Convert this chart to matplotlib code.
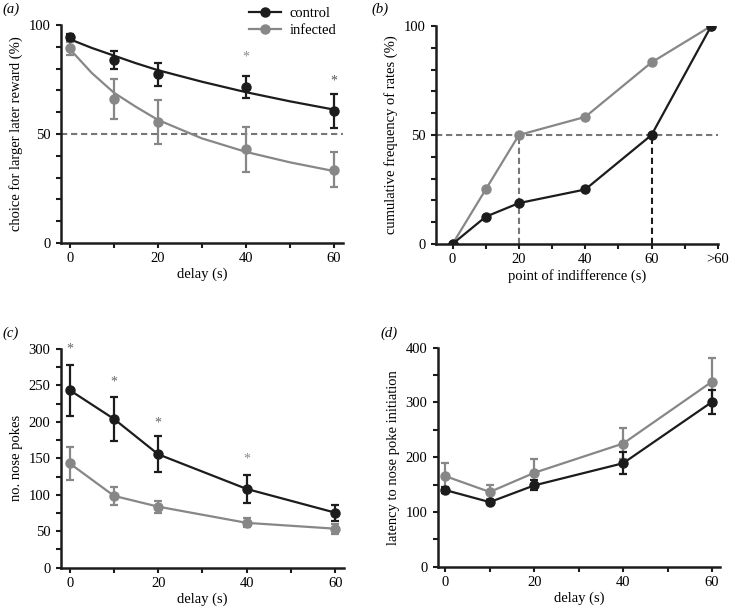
import matplotlib
matplotlib.use('Agg')
import matplotlib.pyplot as plt
from matplotlib.lines import Line2D

plt.rcParams['font.family'] = ['Liberation Serif', 'DejaVu Serif']
plt.rcParams['font.size'] = 10.5

BLACK = '#1c1c1c'
GREY = '#878787'
DASH = '#777777'

# (a) choice for larger later reward
delayA = [0, 10, 20, 40, 60]
ctrlA = [94.5, 84, 77.5, 71.5, 60.5]
ctrlA_err = [1.5, 4, 5.3, 5, 7.7]
infA = [89.3, 66, 55.5, 43, 33.7]
infA_err = [3, 9.2, 10.3, 10.2, 7.9]
# fitted curves
fitX = [0, 5, 10, 15, 20, 30, 40, 50, 60]
ctrlFit = [93.5, 89.5, 86, 82.5, 79.3, 74, 69.2, 65, 61.2]
infFit = [89, 78, 69, 62.5, 56.5, 48, 41.8, 37, 33]
starsA_x = [40, 60]
starsA_y = [85.5, 74.5]
starsA_c = ['#8a8a8a', '#555555']

# (b) cumulative frequency of indifference points
pointB = [0, 10, 20, 40, 60, 78]
ctrlB = [0, 12.5, 18.75, 25, 50, 100]
infB = [0, 25, 50, 58.3, 83.3, 100]
ticksB = [0, 20, 40, 60, 80]
tickLabelsB = ['0', '20', '40', '60', '>60']

# (c) number of nose pokes
ctrlC = [243.5, 204, 155.5, 108, 75.5]
ctrlC_err = [35, 30, 24.5, 19.5, 11]
infC = [143, 98.5, 83.7, 61.5, 53.5]
infC_err = [23, 12.5, 8, 6, 7]
starsC_x = [0, 10, 20, 40]
starsC_y = [300, 255, 199, 149]
starsC_c = ['#666666', '#666666', '#666666', '#8a8a8a']

# (d) latency to nose poke initiation
ctrlD = [140, 118, 148.5, 189, 301]
ctrlD_err = [5, 4, 9, 20, 22]
infD = [165.5, 136.5, 171.5, 225, 338]
infD_err = [24, 12, 25, 29, 43]


def style(ax, xlim, ylim, xmajor, ymajor, yminor):
    for s in ['top', 'right']:
        ax.spines[s].set_visible(False)
    for s in ['left', 'bottom']:
        ax.spines[s].set_linewidth(1.8)
        ax.spines[s].set_color(BLACK)
    ax.set_xlim(xlim)
    ax.set_ylim(ylim)
    ax.set_xticks(xmajor)
    ax.set_xticks(list(range(0, int(xlim[1]) + 1, 10)), minor=True)
    ax.set_yticks(ymajor)
    ax.set_yticks(yminor, minor=True)
    ax.tick_params(which='both', direction='out', length=3.5, width=1.5,
                   color=BLACK, labelsize=10.5, pad=3)
    ax.tick_params(axis='y', which='both', pad=4)


def errplot(ax, x, y, e, color):
    ax.errorbar(x, y, yerr=e, fmt='o', color=color, ms=6.5, elinewidth=1.6,
                capsize=3.2, capthick=1.6, clip_on=False, zorder=3)


fig = plt.figure(figsize=(7.31, 6.11), dpi=100)

# ---- (a)
axA = fig.add_axes([0.0834, 0.6023, 0.3856, 0.3567])
style(axA, (-2, 62), (0, 100), [0, 20, 40, 60], [0, 50, 100], list(range(0, 101, 10)))
axA.axhline(50, color=DASH, lw=1.5, dashes=(3, 1.8), zorder=1)
axA.plot(fitX, infFit, color=GREY, lw=1.6, zorder=2)
axA.plot(fitX, ctrlFit, color=BLACK, lw=1.6, zorder=2)
errplot(axA, delayA, infA, infA_err, GREY)
errplot(axA, delayA, ctrlA, ctrlA_err, BLACK)
for x, y, c in zip(starsA_x, starsA_y, starsA_c):
    axA.text(x, y, '*', ha='center', va='center', color=c, fontsize=10)
axA.set_xlabel('delay (s)', labelpad=2)
axA.set_ylabel('choice for larger later reward (%)', labelpad=4)
handles = [Line2D([], [], color=BLACK, lw=1.6, marker='o', ms=6.5),
           Line2D([], [], color=GREY, lw=1.6, marker='o', ms=6.5)]
fig.legend(handles, ['control', 'infected'], loc='upper left',
           bbox_to_anchor=(0.322, 1.01), frameon=False, handlelength=2.2,
           handletextpad=0.6, labelspacing=0.25, fontsize=10.5)

# ---- (b)
axB = fig.add_axes([0.5964, 0.6007, 0.3856, 0.3567])
style(axB, (-5, 80), (0, 100), ticksB, [0, 50, 100], list(range(0, 101, 10)))
axB.set_xticklabels(tickLabelsB)
axB.axhline(50, color=DASH, lw=1.5, dashes=(3, 1.8), zorder=1)
axB.plot([20, 20], [0, 50], color=DASH, lw=1.5, dashes=(3, 1.8), zorder=1)
axB.plot([60, 60], [0, 50], color=BLACK, lw=1.5, dashes=(3, 1.8), zorder=1)
axB.plot(pointB, infB, '-o', color=GREY, lw=1.6, ms=6.5, zorder=2)
axB.plot(pointB, ctrlB, '-o', color=BLACK, lw=1.6, ms=6.5, zorder=3)
axB.set_xlabel('point of indifference (s)', labelpad=2)
axB.set_ylabel('cumulative frequency of rates (%)', labelpad=4)

# ---- (c)
axC = fig.add_axes([0.0834, 0.0709, 0.3872, 0.3579])
style(axC, (-2, 62), (0, 300), [0, 20, 40, 60], list(range(0, 301, 50)),
      list(range(0, 301, 25)))
axC.plot(delayA, infC, color=GREY, lw=1.6, zorder=2)
axC.plot(delayA, ctrlC, color=BLACK, lw=1.6, zorder=2)
errplot(axC, delayA, infC, infC_err, GREY)
errplot(axC, delayA, ctrlC, ctrlC_err, BLACK)
for x, y, c in zip(starsC_x, starsC_y, starsC_c):
    axC.text(x, y, '*', ha='center', va='center', color=c, fontsize=10)
axC.set_xlabel('delay (s)', labelpad=2)
axC.set_ylabel('no. nose pokes', labelpad=4)

# ---- (d)
axD = fig.add_axes([0.5988, 0.0725, 0.3862, 0.3584])
style(axD, (-1.7, 61.8), (0, 400), [0, 20, 40, 60], list(range(0, 401, 100)),
      list(range(0, 401, 50)))
axD.plot(delayA, infD, color=GREY, lw=1.6, zorder=2)
axD.plot(delayA, ctrlD, color=BLACK, lw=1.6, zorder=2)
errplot(axD, delayA, infD, infD_err, GREY)
errplot(axD, delayA, ctrlD, ctrlD_err, BLACK)
axD.set_xlabel('delay (s)', labelpad=2)
axD.set_ylabel('latency to nose poke initiation', labelpad=4)

# panel letters
for x, y, s in [(0.003, 0.985, 'a'), (0.508, 0.985, 'b'),
                (0.003, 0.455, 'c'), (0.52, 0.455, 'd')]:
    fig.text(x, y, '(' + s + ')', fontsize=10.5, style='italic', va='center')

fig.savefig('out.png', dpi=100)
